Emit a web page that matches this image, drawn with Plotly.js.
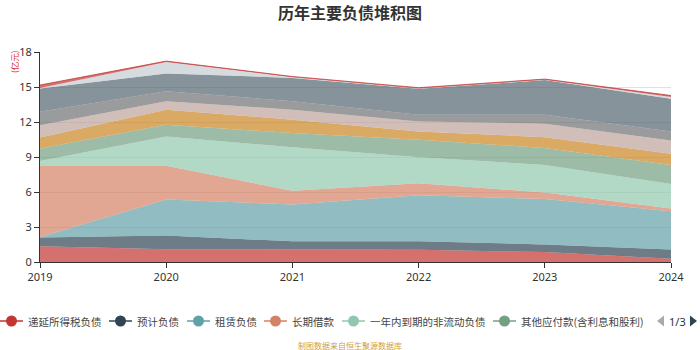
<!DOCTYPE html>
<html>
<head>
<meta charset="utf-8">
<script src="https://cdn.plot.ly/plotly-3.0.1.min.js"></script>
<style>html,body{margin:0;padding:0;background:#fff;}#chart{width:700px;height:350px;}</style>
</head>
<body>
<div id="chart"></div>
<script>
// ---- data (亿元), bottom to top of the stack ----
var years = ['2019', '2020', '2021', '2022', '2023', '2024'];
var seriesNames = ['递延所得税负债', '预计负债', '租赁负债', '长期借款', '一年内到期的非流动负债', '其他应付款(含利息和股利)',
                   '应付账款', '合同负债', '应付职工薪酬', '应交税费', '应付票据', '短期借款'];
var deferredTax   = [1.36, 1.10, 1.08, 1.05, 0.85, 0.27];
var provisions    = [0.73, 1.18, 0.69, 0.72, 0.66, 0.81];
var leaseLiab     = [0.06, 3.08, 3.16, 3.96, 3.88, 3.27];
var longLoans     = [6.08, 2.90, 1.17, 1.01, 0.57, 0.24];
var currentNonCur = [0.42, 2.50, 3.73, 2.24, 2.36, 2.09];
var otherPayables = [1.07, 1.01, 1.22, 1.49, 1.46, 1.64];
var accountsPay   = [0.95, 1.29, 1.15, 0.72, 0.92, 0.96];
var contractLiab  = [1.05, 0.72, 0.86, 0.86, 1.15, 1.13];
var staffPay      = [1.15, 0.86, 0.72, 0.58, 0.78, 0.78];
var taxesPay      = [2.00, 1.52, 2.00, 2.21, 2.96, 2.81];
var notesPay      = [0.05, 0.98, 0.06, 0.04, 0.03, 0.15];
var shortLoans    = [0.25, 0.08, 0.06, 0.06, 0.06, 0.12];
var seriesValues = [deferredTax, provisions, leaseLiab, longLoans, currentNonCur, otherPayables,
                    accountsPay, contractLiab, staffPay, taxesPay, notesPay, shortLoans];
var legendPage = '1/3';

// ---- styling ----
var palette = ['#c23531','#2f4554','#61a0a8','#d48265','#91c7ae','#749f83','#ca8622','#bda29a','#6e7074','#546570','#c4ccd3'];
function rgba(hex, a){
  var r=parseInt(hex.substr(1,2),16), g=parseInt(hex.substr(3,2),16), b=parseInt(hex.substr(5,2),16);
  return 'rgba('+r+','+g+','+b+','+a+')';
}

var traces = seriesValues.map(function(vals, i){
  var c = palette[i % palette.length];
  var isTop = (i === seriesValues.length - 1);
  return {
    type: 'scatter', mode: 'lines', x: years, y: vals, name: seriesNames[i],
    stackgroup: 'one', fillcolor: rgba(c, 0.7),
    line: {width: isTop ? 1 : 0, color: rgba(c, isTop ? 0.75 : 0.7), shape: 'linear'},
    showlegend: false, hoverinfo: 'skip'
  };
});

// plot area geometry (px)
var L = 40, R = 29, T = 52, B = 88, W = 700, H = 350;
var PW = W - L - R, PH = H - T - B;
function px(x){ return (x - L) / PW; }
function py(y){ return (H - B - y) / PH; }

// custom legend (page 1 of the legend)
var legendStarts = [0, 109, 187, 264, 342, 493];
var shapes = [], annotations = [];
var ly = 321;
for (var i = 0; i < 6; i++){
  var x0 = legendStarts[i], c = palette[i];
  shapes.push({type:'line', xref:'paper', yref:'paper', x0:px(x0), x1:px(x0+23), y0:py(ly), y1:py(ly), line:{color:c, width:1.5}});
  shapes.push({type:'circle', xref:'paper', yref:'paper', x0:px(x0+6), x1:px(x0+17), y0:py(ly-5.5), y1:py(ly+5.5), fillcolor:c, line:{color:c, width:0}});
  annotations.push({xref:'paper', yref:'paper', x:px(x0+26), y:py(ly), xanchor:'left', yanchor:'middle', showarrow:false,
    text: seriesNames[i], font:{family:'"Noto Sans CJK SC", sans-serif', size:10.5, color:'#444'}});
}
// pagination controls
shapes.push({type:'path', xref:'paper', yref:'paper',
  path: 'M '+px(664)+' '+py(315.5)+' L '+px(657)+' '+py(321)+' L '+px(664)+' '+py(326.5)+' Z', fillcolor:'#aaaaaa', line:{width:0}});
shapes.push({type:'path', xref:'paper', yref:'paper',
  path: 'M '+px(690)+' '+py(315.5)+' L '+px(697)+' '+py(321)+' L '+px(690)+' '+py(326.5)+' Z', fillcolor:'#2f4554', line:{width:0}});
annotations.push({xref:'paper', yref:'paper', x:px(678), y:py(ly), xanchor:'center', yanchor:'middle', showarrow:false,
  text: legendPage, font:{family:'"Noto Sans", sans-serif', size:11, color:'#333'}});
// unit label
annotations.push({xref:'paper', yref:'paper', x:px(14), y:py(62), xanchor:'center', yanchor:'middle', showarrow:false,
  text:'(亿元)', textangle:-90, font:{family:'"Noto Sans CJK SC", sans-serif', size:8.5, color:'#e03030'}});
// source note
annotations.push({xref:'paper', yref:'paper', x:px(350), y:py(345), xanchor:'center', yanchor:'middle', showarrow:false,
  text:'制图数据来自恒生聚源数据库', font:{family:'"Noto Sans CJK SC", sans-serif', size:8, color:'#d0a040'}});

var layout = {
  width: W, height: H,
  margin: {l: L, r: R, t: T, b: B, pad: 0},
  paper_bgcolor: '#fff', plot_bgcolor: '#fff',
  title: {text: '历年主要负债堆积图', x: 0.5, xanchor: 'center', y: 1 - 13/H, yanchor: 'middle',
          font: {family: '"Noto Sans CJK SC", sans-serif', size: 16, color: '#333', weight: 'bold'}},
  showlegend: false,
  hovermode: false,
  xaxis: {
    type: 'category', range: [0, 5], showgrid: false, zeroline: false,
    showline: true, linecolor: '#333', linewidth: 1,
    ticks: 'outside', ticklen: 5, tickcolor: '#333',
    tickfont: {family: '"Noto Sans", sans-serif', size: 11, color: '#333'}
  },
  yaxis: {
    range: [0, 18], tickvals: [0, 3, 6, 9, 12, 15, 18], showgrid: true, gridcolor: '#e0e0e0', gridwidth: 1,
    zeroline: false, showline: true, linecolor: '#333', linewidth: 1,
    ticks: 'outside', ticklen: 5, tickcolor: '#333',
    tickfont: {family: '"Noto Sans", sans-serif', size: 11, color: '#333'}
  },
  shapes: shapes,
  annotations: annotations
};

Plotly.newPlot('chart', traces, layout, {displayModeBar: false, staticPlot: true});
</script>
</body>
</html>
